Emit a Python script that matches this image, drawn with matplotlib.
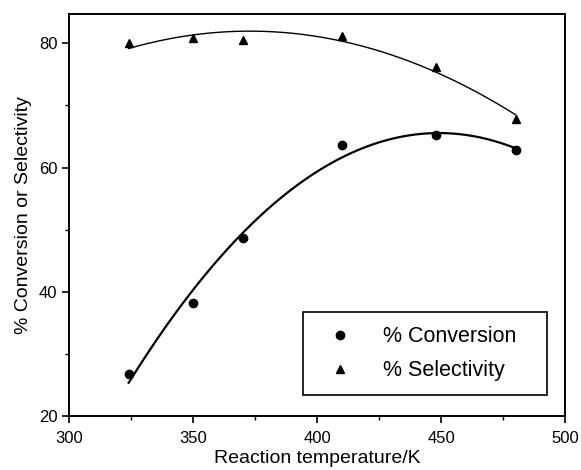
import numpy as np
import matplotlib.pyplot as plt
from matplotlib.patches import Rectangle
from matplotlib.ticker import MultipleLocator

plt.rcParams['font.family'] = ['Liberation Sans', 'DejaVu Sans']

# Data
temp = [324, 350, 370, 410, 448, 480]
conversion = [26.8, 38.2, 48.7, 63.7, 65.2, 62.8]
selectivity = [80.0, 80.8, 80.6, 81.2, 76.2, 67.8]

fig = plt.figure(figsize=(5.81, 4.70), dpi=100)
ax = fig.add_axes([0.119, 0.115, 0.854, 0.855])

# quadratic fits through the points
xs = np.linspace(min(temp), max(temp), 200)
c_fit = np.polyval(np.polyfit(temp, conversion, 2), xs)
s_fit = np.polyval(np.polyfit(temp, selectivity, 2), xs)

ax.plot(xs, c_fit, color='black', lw=1.6)
ax.plot(xs, s_fit, color='black', lw=1.0)
ax.plot(temp, conversion, 'o', color='black', ms=6, label='% Conversion', linestyle='none')
ax.plot(temp, selectivity, '^', color='black', ms=6, label='% Selectivity', linestyle='none')

ax.set_xlim(300, 500)
ax.set_ylim(20, 84.7)
ax.xaxis.set_major_locator(MultipleLocator(50))
ax.xaxis.set_minor_locator(MultipleLocator(25))
ax.yaxis.set_major_locator(MultipleLocator(20))
ax.yaxis.set_minor_locator(MultipleLocator(10))
ax.tick_params(which='major', direction='out', length=5, width=1.2, labelsize=12)
ax.tick_params(axis='x', which='major', pad=6)
ax.tick_params(which='minor', direction='out', length=3, width=1.0)
for s in ax.spines.values():
    s.set_linewidth(1.4)

ax.set_xlabel('Reaction temperature/K', fontsize=14, labelpad=3)
ax.set_ylabel('% Conversion or Selectivity', fontsize=14, labelpad=5)

# legend without its own frame, box drawn separately for the wider padding
leg = ax.legend(loc='center left', bbox_to_anchor=(0.5247, 0.155), fontsize=15.5,
                frameon=False, handletextpad=1.5, borderpad=0, labelspacing=0.6,
                handlelength=1.0, borderaxespad=0)
box = Rectangle((0.472, 0.052), 0.492, 0.207, transform=ax.transAxes,
                fill=False, edgecolor='black', lw=1.2)
ax.add_patch(box)

fig.savefig('out.png', dpi=100)
